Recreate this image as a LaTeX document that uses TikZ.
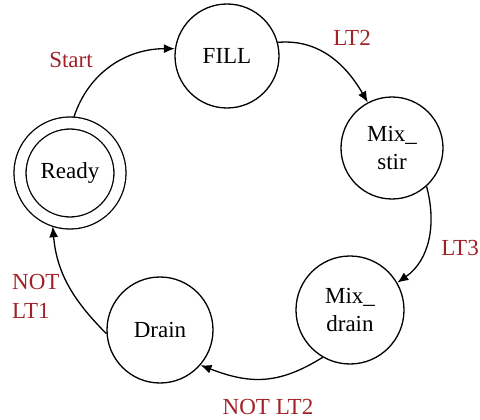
\documentclass[tikz,border=0pt]{standalone}
\usepackage{fontspec}
\setmainfont{Liberation Serif}
\usetikzlibrary{arrows.meta}
\begin{document}
\begin{tikzpicture}[x=1pt,y=-1pt]
% Styles
\definecolor{rougeTr}{RGB}{160,34,40}
\tikzstyle{fleche}=[->,>={Latex[length=11pt,width=9pt]},line width=1.3pt]
\tikzstyle{etat}=[circle,draw,line width=1.3pt,align=center,inner sep=0pt,
  font=\fontsize{23pt}{28.5pt}\selectfont]
\tikzstyle{transition}=[text=rougeTr,anchor=base,inner sep=0pt,
  font=\fontsize{23pt}{29pt}\selectfont]
\useasboundingbox (0,0) rectangle (480,420);
% Etats
\node[etat,double,double distance=10.7pt,minimum size=100pt,outer sep=6pt] (Ready) at (70,173) {Ready};
\node[etat,minimum size=104pt] (Fill) at (227,56) {FILL};
\node[etat,minimum size=102pt] (MixStir) at (392,148) {Mix\_\\stir};
\node[etat,minimum size=108pt] (MixDrain) at (350,310) {Mix\_\\drain};
\node[etat,minimum size=106pt] (Drain) at (160,330) {Drain};
% Arcs
\draw[fleche] (Ready.86) to[out=72,in=180] (Fill.172);
\draw[fleche] (Fill.15) to[out=5,in=120] (MixStir.118);
\draw[fleche] (MixStir.-48) to[out=-75,in=35] (MixDrain.30);
\draw[fleche] (MixDrain.240) to[out=212,in=-21,looseness=1.1] (Drain.-41);
\draw[fleche] (Drain.184) to[out=135,in=-85] (Ready.252);
% Etiquettes
\node[transition] (tStart) at (71,68) {Start};
\node[transition] (tLTdeux) at (352,46) {LT2};
\node[transition] (tLTtrois) at (460,255) {LT3};
\node[transition] (tNotLTdeux) at (268,414) {NOT LT2};
\node[transition,anchor=base west,align=left] (tNotLTun) at (12,318) {NOT\\LT1};
\end{tikzpicture}
\end{document}
